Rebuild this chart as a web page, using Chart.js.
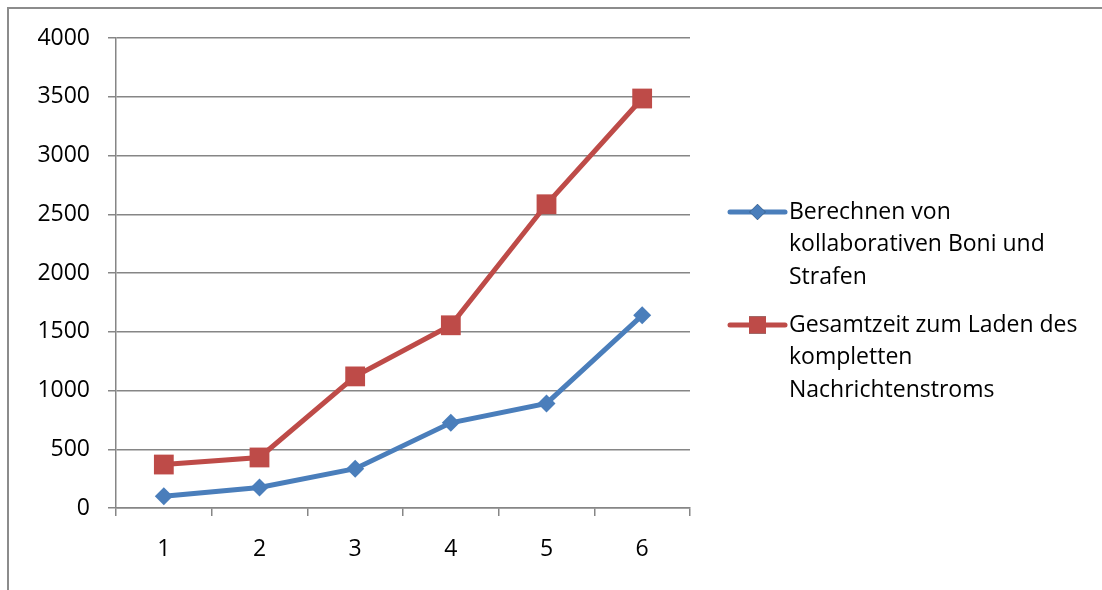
<!DOCTYPE html>
<html>
<head>
<meta charset="utf-8">
<script src="https://cdn.jsdelivr.net/npm/chart.js@4/dist/chart.umd.min.js"></script>
<style>
  html, body { margin: 0; padding: 0; background: #fff; }
  #wrap { width: 1102px; height: 590px; position: relative; }
</style>
</head>
<body>
<div id="wrap"><canvas id="c" width="1102" height="590"></canvas></div>
<script>
// Run numbers 1..6
const categories = ['1', '2', '3', '4', '5', '6'];

// Time for computing collaborative bonuses and penalties
const bonusValues = [100, 175, 335, 725, 890, 1640];
// Total time to load the complete message stream
const streamValues = [370, 430, 1120, 1555, 2585, 3485];

const legendLabels = [
  ['Berechnen von', 'kollaborativen Boni und', 'Strafen'],
  ['Gesamtzeit zum Laden des', 'kompletten', 'Nachrichtenstroms']
];

const BLUE = '#4A7EBB';
const RED = '#BE4B48';
const GRID = '#868686';
const FONT = '"Open Sans", "DejaVu Sans", sans-serif';
const FONT_SIZE = 23;

// Outer frame of the chart object (top and left edges)
const framePlugin = {
  id: 'frame',
  beforeDraw(chart) {
    const ctx = chart.ctx;
    ctx.save();
    ctx.strokeStyle = '#8c8c8c';
    ctx.lineWidth = 2;
    ctx.beginPath();
    ctx.moveTo(8, chart.height);
    ctx.lineTo(8, 8);
    ctx.lineTo(chart.width, 8);
    ctx.stroke();
    ctx.restore();
  }
};

// Legend on the right with wrapped labels
const sideLegend = {
  id: 'sideLegend',
  afterDraw(chart) {
    const ctx = chart.ctx;
    const x0 = chart.chartArea.right + 40;
    const x1 = x0 + 55;
    const starts = [212, 325];
    const lineGap = 32.5;
    chart.data.datasets.forEach((ds, i) => {
      const y = starts[i];
      ctx.save();
      ctx.strokeStyle = ds.borderColor;
      ctx.lineWidth = 5;
      ctx.lineCap = 'round';
      ctx.beginPath();
      ctx.moveTo(x0, y);
      ctx.lineTo(x1, y);
      ctx.stroke();
      const cx = (x0 + x1) / 2;
      Chart.helpers.drawPoint(ctx, {
        pointStyle: ds.pointStyle,
        radius: i === 0 ? 8 : 12,
        borderWidth: 0
      }, cx, y);
      ctx.fillStyle = ds.pointBackgroundColor;
      ctx.fill();
      ctx.fillStyle = '#000';
      ctx.font = FONT_SIZE + 'px ' + FONT;
      ctx.textBaseline = 'middle';
      ctx.textAlign = 'left';
      legendLabels[i].forEach((t, k) => {
        ctx.fillText(t, x1 + 4, y + k * lineGap);
      });
      ctx.restore();
    });
  }
};

new Chart(document.getElementById('c'), {
  type: 'line',
  data: {
    labels: categories,
    datasets: [
      {
        label: legendLabels[0].join(' '),
        data: bonusValues,
        borderColor: BLUE,
        backgroundColor: BLUE,
        pointBackgroundColor: BLUE,
        pointBorderColor: BLUE,
        borderWidth: 5,
        pointStyle: 'rectRot',
        pointRadius: 9,
        pointBorderWidth: 0,
        tension: 0
      },
      {
        label: legendLabels[1].join(' '),
        data: streamValues,
        borderColor: RED,
        backgroundColor: RED,
        pointBackgroundColor: RED,
        pointBorderColor: RED,
        borderWidth: 5,
        pointStyle: 'rect',
        pointRadius: 14,
        pointBorderWidth: 0,
        tension: 0
      }
    ]
  },
  options: {
    responsive: false,
    animation: false,
    events: [],
    layout: { padding: { left: 0, top: 38, right: 412, bottom: 0 } },
    plugins: {
      legend: { display: false },
      tooltip: { enabled: false }
    },
    scales: {
      x: {
        offset: true,
        grid: {
          offset: true,
          drawOnChartArea: false,
          drawTicks: true,
          tickLength: 8,
          color: GRID,
          lineWidth: 1.5
        },
        border: { color: GRID, width: 1.5 },
        ticks: {
          color: '#000',
          font: { family: FONT, size: FONT_SIZE },
          padding: 20
        },
        afterFit(scale) { scale.height = 82; }
      },
      y: {
        min: 0,
        max: 4000,
        grid: {
          color: GRID,
          lineWidth: 1.5,
          tickLength: 8
        },
        border: { color: GRID, width: 1.5 },
        ticks: {
          stepSize: 500,
          color: '#000',
          font: { family: FONT, size: FONT_SIZE },
          padding: 18,
          callback: (v) => String(v)
        },
        afterFit(scale) { scale.width = 116; }
      }
    }
  },
  plugins: [framePlugin, sideLegend]
});
</script>
</body>
</html>
